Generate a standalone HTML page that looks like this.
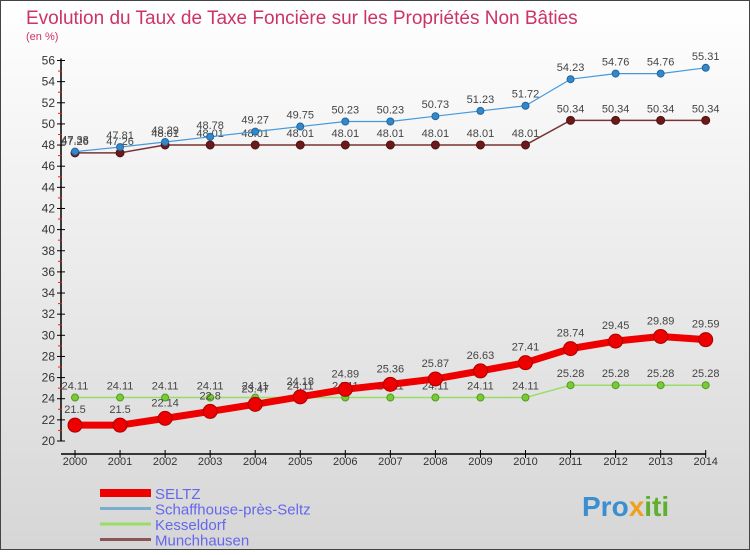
<!DOCTYPE html>
<html><head><meta charset="utf-8"><style>
html,body{margin:0;padding:0}
body{width:750px;height:550px;overflow:hidden;font-family:"Liberation Sans",sans-serif}
</style></head><body>
<svg id="c" width="750" height="550" xmlns="http://www.w3.org/2000/svg">
<defs><linearGradient id="bg" x1="0" y1="0" x2="0" y2="1"><stop offset="0" stop-color="#ffffff"/><stop offset="1" stop-color="#d6d6d6"/></linearGradient></defs>
<rect x="0.5" y="0.5" width="749" height="549" fill="url(#bg)" stroke="#444"/>
<text x="26" y="24" font-size="19" fill="#cc3366">Evolution du Taux de Taxe Foncière sur les Propriétés Non Bâties</text>
<text x="26" y="40" font-size="11" fill="#cc3366">(en %)</text>
<g id="axes"></g><g id="series"></g><g id="legend"></g>
<text x="582" y="516" font-size="28" font-weight="bold" fill="#3a8fd0">Pro<tspan fill="#f0a020">x</tspan><tspan fill="#60b030">iti</tspan></text>
</svg>
<script>
const years=[2000,2001,2002,2003,2004,2005,2006,2007,2008,2009,2010,2011,2012,2013,2014];
const yTicks=[20,22,24,26,28,30,32,34,36,38,40,42,44,46,48,50,52,54,56];
const seltz=[21.5,21.5,22.14,22.8,23.47,24.18,24.89,25.36,25.87,26.63,27.41,28.74,29.45,29.89,29.59];
const schaff=[47.38,47.81,48.29,48.78,49.27,49.75,50.23,50.23,50.73,51.23,51.72,54.23,54.76,54.76,55.31];
const kessel=[24.11,24.11,24.11,24.11,24.11,24.11,24.11,24.11,24.11,24.11,24.11,25.28,25.28,25.28,25.28];
const munch=[47.26,47.26,48.01,48.01,48.01,48.01,48.01,48.01,48.01,48.01,48.01,50.34,50.34,50.34,50.34];
const NS="http://www.w3.org/2000/svg";
const X=i=>75+i*45.05;
const Y=v=>441-(v-20)*(380.5/36);
function mk(t,a,p){const e=document.createElementNS(NS,t);for(const k in a)e.setAttribute(k,a[k]);p.appendChild(e);return e;}
const ax=document.getElementById('axes');
let l=mk('line',{x1:61,y1:Y(56)-2,x2:61,y2:441,stroke:'#000','stroke-width':1.5},ax);


l=mk('line',{x1:61,y1:454,x2:X(14),y2:454,stroke:'#000','stroke-width':1.5},ax);


yTicks.forEach(v=>{
 mk('line',{x1:57,y1:Y(v),x2:65,y2:Y(v),stroke:'#000'},ax);
 if(v<56) mk('line',{x1:58,y1:Y(v+1),x2:62,y2:Y(v+1),stroke:'#e02020'},ax);
 const t=mk('text',{x:55,y:Y(v)+4,'font-size':12,'text-anchor':'end',fill:'#333'},ax);t.textContent=v;
 
 
});
years.forEach((yr,i)=>{
 mk('line',{x1:X(i),y1:450,x2:X(i),y2:458,stroke:'#000'},ax);
 const t=mk('text',{x:X(i),y:465,'font-size':11,'text-anchor':'middle',fill:'#333'},ax);t.textContent=yr;
 
 
});
const sg=document.getElementById('series');
function series(name,data,color,w,r,dot,dotStroke,lblOff){
 const g=mk('g',{},sg);
 
 
 mk('polyline',{points:data.map((v,i)=>X(i)+','+Y(v)).join(' '),fill:'none',stroke:color,'stroke-width':w,'stroke-linejoin':'round'},g);
 data.forEach((v,i)=>{
  const c=mk('circle',{cx:X(i),cy:Y(v),r:r,fill:dot,stroke:dotStroke,'stroke-width':1},g);
  
  
  const t=mk('text',{x:X(i),y:Y(v)+lblOff,'font-size':11,'text-anchor':'middle',fill:'#444'},g);t.textContent=v;
  
  
 });
}
series('kesseldorf',kessel,'#99dd66',1.5,3.5,'#77cc33','#559922',-8);
series('munchhausen',munch,'#7a3333',1.5,4,'#6a1a1a','#501010',-8);
series('schaffhouse',schaff,'#4499dd',1.2,3.5,'#3388cc','#226699',-8);
series('seltz',seltz,'#ee0000',7,7,'#ee0000','#aa0000',-12);
const lg=document.getElementById('legend');
const items=[['SELTZ','#ee0000',8],['Schaffhouse-près-Seltz','#7aaed0',3],['Kesseldorf','#99dd66',3],['Munchhausen','#8a5555',3]];
items.forEach((it,i)=>{
 const y=493+i*15.5;
 const g=mk('g',{},lg);
 
 
 mk('line',{x1:100,y1:y,x2:151,y2:y,stroke:it[1],'stroke-width':it[2]},g);
 const t=mk('text',{x:155,y:y+6,'font-size':15,fill:'#6666ee'},g);t.textContent=it[0];
});
</script>
</body></html>
